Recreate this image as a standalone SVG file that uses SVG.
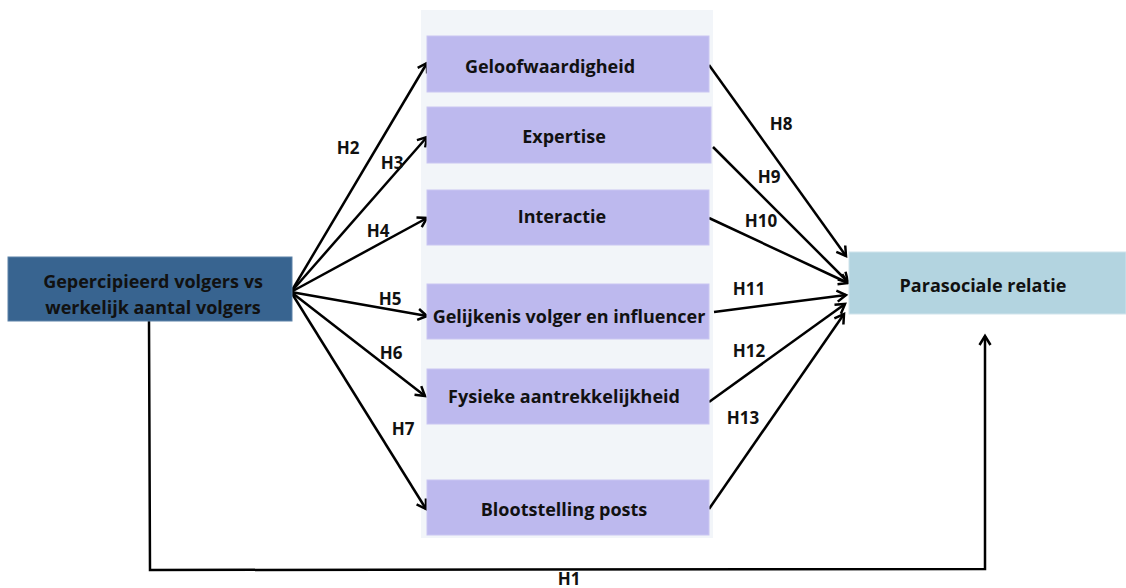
<svg xmlns="http://www.w3.org/2000/svg" width="1126" height="588" viewBox="0 0 1126 588">
  <defs>
    <marker id="arr" markerUnits="userSpaceOnUse" markerWidth="16" markerHeight="16" refX="12" refY="7" orient="auto">
      <path d="M3,1.5 L12,7 L3,12.5" fill="none" stroke="#000" stroke-width="2.5" stroke-linejoin="miter"/>
    </marker>
    <style>
      .t { font-family: "Open Sans", "Noto Sans", "Liberation Sans", sans-serif; font-weight: bold; font-size: 18px; fill: #111; text-anchor: middle; }
      .lab { font-family: "Open Sans", "Noto Sans", "Liberation Sans", sans-serif; font-weight: bold; font-size: 17px; fill: #111; text-anchor: middle; }
      .med { fill: #BDB9EE; stroke: #C9C6F2; stroke-width: 1; }
      .ln { fill: none; stroke: #000; stroke-width: 2.5; }
    </style>
  </defs>
  <rect width="1126" height="588" fill="#fff"/>
  <rect id="panel" x="421" y="10" width="292" height="528" fill="#F2F5F9"/>

  <g id="connectors">
    <line class="ln" x1="291" y1="292" x2="427" y2="63" marker-end="url(#arr)"/>
    <line class="ln" x1="291" y1="292" x2="427" y2="137" marker-end="url(#arr)"/>
    <line class="ln" x1="291" y1="292" x2="427" y2="218" marker-end="url(#arr)"/>
    <line class="ln" x1="291" y1="292" x2="427" y2="316" marker-end="url(#arr)"/>
    <line class="ln" x1="291" y1="292" x2="425" y2="396" marker-end="url(#arr)"/>
    <line class="ln" x1="291" y1="292" x2="426" y2="509" marker-end="url(#arr)"/>
    <line class="ln" x1="709" y1="65" x2="846" y2="256" marker-end="url(#arr)"/>
    <line class="ln" x1="713" y1="147" x2="848" y2="282" marker-end="url(#arr)"/>
    <line class="ln" x1="709" y1="218" x2="848" y2="283" marker-end="url(#arr)"/>
    <line class="ln" x1="714" y1="312" x2="846" y2="295" marker-end="url(#arr)"/>
    <line class="ln" x1="709" y1="402" x2="845" y2="304" marker-end="url(#arr)"/>
    <line class="ln" x1="709" y1="509" x2="844" y2="314" marker-end="url(#arr)"/>
    <polyline class="ln" points="149,321 150,570 985,569 985,336" marker-end="url(#arr)"/>
    <text class="lab" x="348" y="154">H2</text>
    <text class="lab" x="392" y="169">H3</text>
    <text class="lab" x="378" y="237">H4</text>
    <text class="lab" x="390" y="305">H5</text>
    <text class="lab" x="391" y="359">H6</text>
    <text class="lab" x="403" y="435">H7</text>
    <text class="lab" x="781" y="130">H8</text>
    <text class="lab" x="769" y="183">H9</text>
    <text class="lab" x="761" y="227">H10</text>
    <text class="lab" x="749" y="295">H11</text>
    <text class="lab" x="749" y="357">H12</text>
    <text class="lab" x="743" y="424">H13</text>
    <text class="lab" x="569" y="585">H1</text>
  </g>

  <g id="node-source">
    <rect x="8" y="257" width="284" height="64" fill="#386490" stroke="#5C82A8" stroke-width="1"/>
    <text class="t" x="153" y="288">Gepercipieerd volgers vs</text>
    <text class="t" x="153" y="314">werkelijk aantal volgers</text>
  </g>
  <g id="node-geloofwaardigheid">
    <rect class="med" x="427" y="36" width="282" height="56"/>
    <text class="t" x="550" y="73">Geloofwaardigheid</text>
  </g>
  <g id="node-expertise">
    <rect class="med" x="427" y="107" width="284" height="56"/>
    <text class="t" x="564" y="143">Expertise</text>
  </g>
  <g id="node-interactie">
    <rect class="med" x="427" y="190" width="282" height="55"/>
    <text class="t" x="562" y="223">Interactie</text>
  </g>
  <g id="node-gelijkenis">
    <rect class="med" x="427" y="284" width="282" height="55"/>
    <text class="t" x="569" y="323">Gelijkenis volger en influencer</text>
  </g>
  <g id="node-fysieke">
    <rect class="med" x="427" y="369" width="282" height="55"/>
    <text class="t" x="564" y="403">Fysieke aantrekkelijkheid</text>
  </g>
  <g id="node-blootstelling">
    <rect class="med" x="427" y="480" width="282" height="55"/>
    <text class="t" x="564" y="516">Blootstelling posts</text>
  </g>
  <g id="node-parasociale">
    <rect x="849" y="252" width="277" height="62" fill="#B3D4E0" stroke="#D0E4EC" stroke-width="1"/>
    <text class="t" x="983" y="292">Parasociale relatie</text>
  </g>
</svg>
